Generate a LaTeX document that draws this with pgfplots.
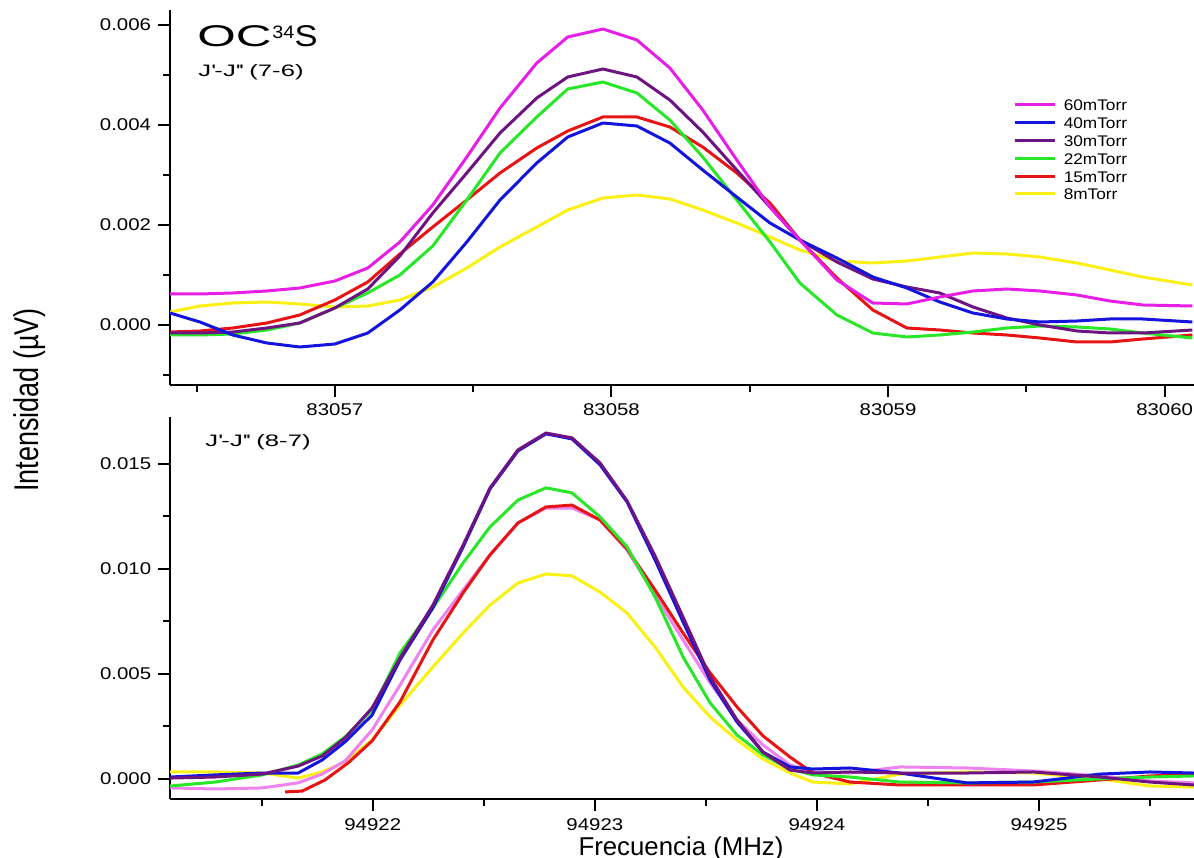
\documentclass[border=0pt]{standalone}
\usepackage{fontspec}
\setmainfont{Liberation Sans}
\newfontfamily\tickfont[FakeStretch=1.2]{Liberation Sans}
\newfontfamily\titlefont[FakeStretch=1.65]{Liberation Sans}
\newfontfamily\subfont[FakeStretch=1.55]{Liberation Sans}
\newfontfamily\legfont[FakeStretch=1.12]{Liberation Sans}
\newfontfamily\supfont[FakeStretch=1.1]{Liberation Sans}
\usepackage{pgfplots}
\usepackage{pgfplotstable}
\pgfplotsset{compat=1.18}

\definecolor{c60}{RGB}{230,30,230}
\definecolor{c40}{RGB}{20,20,220}
\definecolor{c30}{RGB}{110,20,130}
\definecolor{c22}{RGB}{40,230,40}
\definecolor{c15}{RGB}{230,20,20}
\definecolor{c8}{RGB}{250,240,20}
\definecolor{cpink}{RGB}{238,130,238}

\pgfplotstableread{
f p60 p40 p30 p22 p15 p8
83056.404 0.00062 0.00024 -0.00016 -0.00020 -0.00014 0.00026
83056.512 0.00062 0.00006 -0.00016 -0.00020 -0.00012 0.00038
83056.631 0.00064 -0.00020 -0.00014 -0.00018 -0.00006 0.00044
83056.754 0.00068 -0.00036 -0.00006 -0.00010 0.00004 0.00046
83056.873 0.00074 -0.00044 0.00004 0.00004 0.00020 0.00042
83057.000 0.00088 -0.00038 0.00034 0.00034 0.00050 0.00036
83057.119 0.00114 -0.00016 0.00072 0.00064 0.00086 0.00038
83057.235 0.00166 0.00030 0.00138 0.00100 0.00142 0.00050
83057.354 0.00240 0.00086 0.00224 0.00158 0.00196 0.00076
83057.477 0.00336 0.00166 0.00304 0.00250 0.00250 0.00114
83057.597 0.00434 0.00250 0.00384 0.00344 0.00304 0.00156
83057.730 0.00524 0.00324 0.00454 0.00416 0.00354 0.00196
83057.842 0.00576 0.00376 0.00496 0.00472 0.00388 0.00230
83057.969 0.00592 0.00404 0.00512 0.00486 0.00416 0.00254
83058.092 0.00570 0.00398 0.00496 0.00464 0.00416 0.00260
83058.211 0.00514 0.00364 0.00450 0.00410 0.00396 0.00252
83058.330 0.00430 0.00310 0.00386 0.00336 0.00356 0.00230
83058.453 0.00330 0.00256 0.00310 0.00250 0.00304 0.00204
83058.573 0.00236 0.00204 0.00236 0.00166 0.00244 0.00176
83058.681 0.00170 0.00170 0.00170 0.00084 0.00170 0.00150
83058.815 0.00090 0.00134 0.00126 0.00020 0.00094 0.00128
83058.945 0.00044 0.00096 0.00092 -0.00016 0.00030 0.00124
83059.068 0.00042 0.00074 0.00076 -0.00024 -0.00006 0.00128
83059.187 0.00056 0.00046 0.00064 -0.00020 -0.00010 0.00136
83059.307 0.00068 0.00024 0.00036 -0.00014 -0.00016 0.00144
83059.430 0.00072 0.00012 0.00014 -0.00006 -0.00020 0.00142
83059.549 0.00068 0.00006 0.00000 -0.00002 -0.00026 0.00136
83059.683 0.00060 0.00008 -0.00012 -0.00004 -0.00034 0.00124
83059.802 0.00048 0.00012 -0.00016 -0.00008 -0.00034 0.00110
83059.921 0.00040 0.00012 -0.00016 -0.00016 -0.00028 0.00096
83060.100 0.00038 0.00006 -0.00010 -0.00026 -0.00020 0.00080
}\toptable

\pgfplotstableread{
f p60 p40 p30 p22 p8
94921.087 -0.00044 0.00008 0.00003 -0.00035 0.00032
94921.290 -0.00049 0.00018 0.00008 -0.00016 0.00032
94921.502 -0.00044 0.00027 0.00022 0.00018 0.00027
94921.664 -0.00020 0.00027 0.00060 0.00065 0.00003
94921.772 0.00022 0.00089 0.00108 0.00118 0.00032
94921.875 0.00084 0.00175 0.00194 0.00199 0.00080
94921.997 0.00232 0.00303 0.00337 0.00327 0.00184
94922.123 0.00446 0.00566 0.00575 0.00599 0.00351
94922.271 0.00709 0.00814 0.00827 0.00813 0.00532
94922.407 0.00899 0.01104 0.01113 0.01028 0.00694
94922.528 0.01066 0.01380 0.01385 0.01199 0.00827
94922.654 0.01218 0.01561 0.01566 0.01327 0.00932
94922.780 0.01289 0.01642 0.01646 0.01385 0.00975
94922.897 0.01289 0.01618 0.01623 0.01361 0.00966
94923.023 0.01232 0.01495 0.01504 0.01247 0.00889
94923.145 0.01089 0.01318 0.01323 0.01104 0.00789
94923.271 0.00875 0.01042 0.01061 0.00866 0.00627
94923.397 0.00661 0.00747 0.00770 0.00580 0.00437
94923.519 0.00456 0.00470 0.00485 0.00361 0.00294
94923.640 0.00280 0.00270 0.00280 0.00208 0.00184
94923.757 0.00161 0.00127 0.00127 0.00113 0.00094
94923.879 0.00065 0.00056 0.00041 0.00046 0.00027
94923.982 0.00032 0.00046 0.00027 0.00018 -0.00016
94924.149 0.00027 0.00051 0.00032 0.00008 -0.00025
94924.374 0.00056 0.00027 0.00027 -0.00016 0.00022
94924.676 0.00051 -0.00020 0.00027 -0.00020 0.00032
94924.973 0.00037 -0.00016 0.00032 -0.00016 0.00027
94925.275 0.00013 0.00022 0.00008 -0.00001 -0.00001
94925.500 -0.00011 0.00032 -0.00016 0.00008 -0.00035
94925.698 -0.00020 0.00027 -0.00030 0.00013 -0.00040
}\bottable

\pgfplotstableread{
f p15
94921.605 -0.00063
94921.682 -0.00059
94921.785 -0.00006
94921.889 0.00075
94921.997 0.00180
94922.123 0.00366
94922.271 0.00661
94922.407 0.00885
94922.528 0.01066
94922.654 0.01218
94922.780 0.01294
94922.897 0.01303
94923.023 0.01232
94923.145 0.01094
94923.271 0.00899
94923.397 0.00694
94923.519 0.00504
94923.640 0.00342
94923.757 0.00204
94923.879 0.00103
94923.982 0.00027
94924.149 -0.00016
94924.374 -0.00030
94924.676 -0.00030
94924.973 -0.00030
94925.275 -0.00006
94925.500 0.00013
94925.698 0.00022
}\botred

\pgfplotsset{
  panel/.style={
    scale only axis, width=512bp,
    axis x line*=bottom, axis y line*=left,
    tick align=outside,
    major tick length=6bp, minor tick length=3.5bp,
    every tick/.style={line width=1bp, black},
    axis line style={line width=1bp, black},
    tick label style={font=\tickfont\fontsize{8.5bp}{10bp}\selectfont},
    /pgf/number format/assume math mode=true,
    scaled ticks=false,
    every axis plot/.append style={line width=1.5bp, line join=round, no markers},
  }
}

\begin{document}
\begin{tikzpicture}
\begin{axis}[panel,
  at={(85bp,236.5bp)}, anchor=south west, height=187.5bp,
  xmin=83056.404, xmax=83060.106, ymin=-0.0012, ymax=0.0063,
  xtick={83057,83058,83059,83060}, xticklabels={83057,83058,83059,83060},
  minor xtick={83056.5,83057.5,83058.5,83059.5},
  ytick={0,0.002,0.004,0.006}, yticklabels={0.000,0.002,0.004,0.006},
  minor ytick={-0.001,0.001,0.003,0.005},
  legend style={at={(0.824,0.763)}, anchor=north west, draw=none, fill=none,
    font=\legfont\fontsize{7.7bp}{8.9bp}\selectfont, inner sep=0pt, outer sep=0pt,
    row sep=2.9bp, nodes={inner sep=0pt, text height=6bp, text depth=0pt}},
  legend cell align=left,
  reverse legend,
  legend image code/.code={\draw[#1, line width=1.5bp] (0bp,0bp) -- (20bp,0bp); \path (23.5bp,0bp);},
]
\addplot[c8] table[x=f, y=p8] {\toptable};
\addplot[c15] table[x=f, y=p15] {\toptable};
\addplot[c22] table[x=f, y=p22] {\toptable};
\addplot[c30] table[x=f, y=p30] {\toptable};
\addplot[c40] table[x=f, y=p40] {\toptable};
\addplot[c60] table[x=f, y=p60] {\toptable};
\legend{8mTorr,15mTorr,22mTorr,30mTorr,40mTorr,60mTorr}
\end{axis}

\begin{axis}[panel,
  at={(85bp,29.35bp)}, anchor=south west, height=191.3bp,
  xmin=94921.087, xmax=94925.698, ymin=-0.000981, ymax=0.017238,
  xtick={94922,94923,94924,94925}, xticklabels={94922,94923,94924,94925},
  minor xtick={94921.5,94922.5,94923.5,94924.5,94925.5},
  ytick={0,0.005,0.010,0.015}, yticklabels={0.000,0.005,0.010,0.015},
  minor ytick={0.0025,0.0075,0.0125},
]
\addplot[c8] table[x=f, y=p8] {\bottable};
\addplot[cpink] table[x=f, y=p60] {\bottable};
\addplot[c15] table[x=f, y=p15] {\botred};
\addplot[c22] table[x=f, y=p22] {\bottable};
\addplot[c40] table[x=f, y=p40] {\bottable};
\addplot[c30] table[x=f, y=p30] {\bottable};
\end{axis}

\node[anchor=base west, inner sep=0pt] at (98.5bp,405.5bp)
  {\titlefont\fontsize{15bp}{18bp}\selectfont OC\kern0.3bp\raisebox{4bp}{\supfont\fontsize{9bp}{10bp}\selectfont 34}\kern0.2bp{\fontspec{Liberation Sans}[FakeStretch=1.15]S}};
\node[anchor=base west, inner sep=0pt] at (99bp,390.5bp)
  {\subfont\fontsize{8.3bp}{10bp}\selectfont J\textquotesingle-J\textquotesingle\textquotesingle{} (7-6)};
\node[anchor=base west, inner sep=0pt] at (102.5bp,205.5bp)
  {\subfont\fontsize{8.3bp}{10bp}\selectfont J\textquotesingle-J\textquotesingle\textquotesingle{} (8-7)};
\node[anchor=base, inner sep=0pt] at (340.5bp,1.5bp)
  {\fontsize{12.9bp}{15bp}\selectfont Frecuencia (MHz)};
\node[anchor=base, inner sep=0pt, rotate=90] at (19bp,229bp)
  {\scalebox{1}[1.27]{\fontsize{13.5bp}{16bp}\selectfont Intensidad (µV)}};

\pgfresetboundingbox
\path[use as bounding box] (0,0) rectangle (597bp,429bp);
\end{tikzpicture}
\end{document}
